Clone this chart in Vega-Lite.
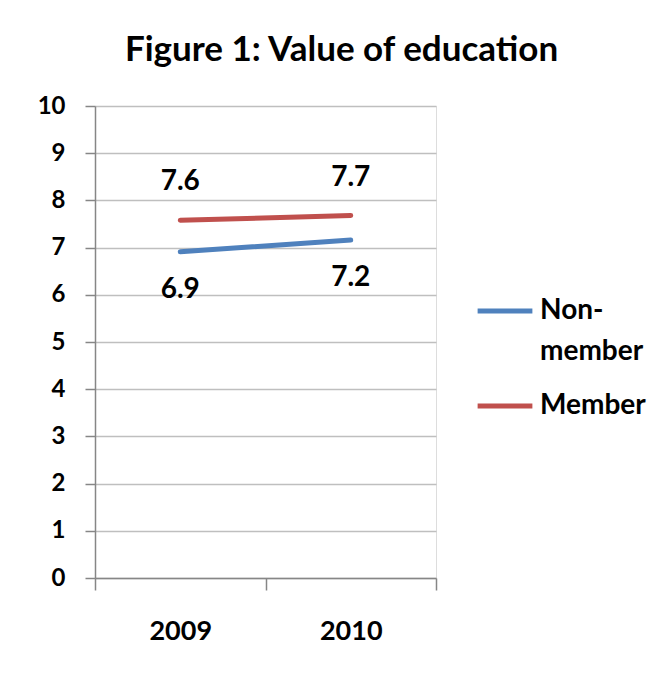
{
  "$schema": "https://vega.github.io/schema/vega-lite/v6.json",
  "width": 341,
  "height": 472,
  "padding": {"left": 37, "top": 33, "right": 5, "bottom": 5},
  "background": "white",
  "config": {"style": {"guide-label": {"lineHeight": 41}}},
  "title": {"text": "Figure 1: Value of education", "fontSize": 35, "font": "Lato", "fontWeight": "bold", "anchor": "middle", "frame": "bounds", "offset": 26, "color": "black"},
  "data": {"values": [
    {"year": "2009", "group": "Non-member", "value": 6.91},
    {"year": "2010", "group": "Non-member", "value": 7.16},
    {"year": "2009", "group": "Member", "value": 7.58},
    {"year": "2010", "group": "Member", "value": 7.68}
  ]},
  "encoding": {
    "x": {"field": "year", "type": "nominal", "scale": {"type": "band", "paddingInner": 0, "paddingOuter": 0},
      "axis": {"title": null, "grid": false, "tickBand": "extent", "tickSize": 12, "tickColor": "#868686", "tickWidth": 1.5, "domainColor": "#868686", "domainWidth": 1.5, "labelAngle": 0, "labelFont": "Lato", "labelFontWeight": "bold", "labelFontSize": 27, "labelColor": "black", "labelPadding": 28}},
    "y": {"field": "value", "type": "quantitative", "scale": {"domain": [0, 10]},
      "axis": {"title": null, "values": [0,1,2,3,4,5,6,7,8,9,10], "grid": true, "gridColor": "#BFBFBF", "gridWidth": 1.5, "tickSize": 10, "tickColor": "#868686", "tickWidth": 1.5, "domainColor": "#868686", "domainWidth": 1.5, "labelFont": "Lato", "labelFontWeight": "bold", "labelFontSize": 24, "labelColor": "black", "labelPadding": 20}}
  },
  "layer": [
    {"mark": {"type": "line", "strokeWidth": 5, "strokeCap": "round"},
     "encoding": {"color": {"field": "group", "type": "nominal",
       "scale": {"domain": ["Non-member", "Member"], "range": ["#4F81BD", "#C0504D"]},
       "legend": {"title": null, "orient": "none", "legendX": 380, "legendY": 175, "padding": 0, "rowPadding": 10, "symbolType": "stroke", "symbolStrokeWidth": 5, "symbolSize": 3000, "labelFont": "Lato", "labelFontWeight": "bold", "labelFontSize": 28, "labelColor": "black", "labelOffset": 5, "labelExpr": "datum.label == 'Non-member' ? ['Non-', 'member'] : datum.label"}}}},
    {"transform": [{"filter": "datum.group == 'Member'"}],
     "mark": {"type": "text", "dy": -38, "font": "Lato", "fontWeight": "bold", "fontSize": 28, "color": "black"},
     "encoding": {"text": {"field": "value", "type": "quantitative", "format": ".1f"}}},
    {"transform": [{"filter": "datum.group == 'Non-member'"}],
     "mark": {"type": "text", "dy": 38, "font": "Lato", "fontWeight": "bold", "fontSize": 28, "color": "black"},
     "encoding": {"text": {"field": "value", "type": "quantitative", "format": ".1f"}}}
  ]
}
